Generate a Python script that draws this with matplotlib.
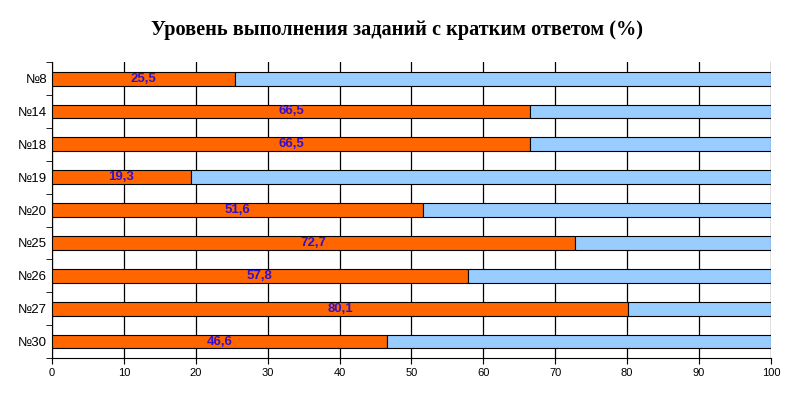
import matplotlib
matplotlib.use("Agg")
from matplotlib import pyplot as plt
from matplotlib.ticker import FixedLocator
import numpy as np

plt.rcParams['font.family'] = ['Liberation Sans', 'DejaVu Sans']

tasks = ["№8", "№14", "№18", "№19", "№20", "№25", "№26", "№27", "№30"]
done = [25.5, 66.5, 66.5, 19.3, 51.6, 72.7, 57.8, 80.1, 46.6]
labels = ["25,5", "66,5", "66,5", "19,3", "51,6", "72,7", "57,8", "80,1", "46,6"]

done = np.array(done)
rest = 100 - done
y = np.arange(len(tasks))

fig = plt.figure(figsize=(7.94, 3.96), dpi=100)
ax = fig.add_axes([0.0655, 0.096, 0.9055, 0.747])

ax.barh(y, done, height=0.42, color="#ff6600", edgecolor="black", linewidth=0.8, zorder=3)
ax.barh(y, rest, left=done, height=0.42, color="#99ccff", edgecolor="black", linewidth=0.8, zorder=3)

for yi, d, lab in zip(y, done, labels):
    ax.text(d / 2, yi, lab, ha="center", va="center", color="#3311cc",
            fontsize=9.5, fontweight="bold", zorder=4)

ax.set_xlim(0, 100)
ax.set_ylim(len(tasks) - 0.5, -0.5)
ax.set_xticks(np.arange(0, 101, 10))
ax.tick_params(axis="x", labelsize=8, length=4, direction="out")
ax.set_yticks(y)
ax.set_yticklabels(tasks, fontsize=9.5)
ax.tick_params(axis="y", which="major", length=0)
ax.yaxis.set_minor_locator(FixedLocator(np.arange(-0.5, len(tasks), 1)))
ax.tick_params(axis="y", which="minor", length=4, direction="out")

ax.xaxis.grid(True, color="black", linewidth=0.9, zorder=0)
ax.set_axisbelow(True)
for s in ["top", "right"]:
    ax.spines[s].set_visible(False)

fig.text(0.5, 0.924, "Уровень выполнения заданий с кратким ответом (%)",
         ha="center", va="center", fontsize=14.6, fontweight="bold",
         family=["Liberation Serif", "DejaVu Serif"])

fig.savefig("out.png", dpi=100)
